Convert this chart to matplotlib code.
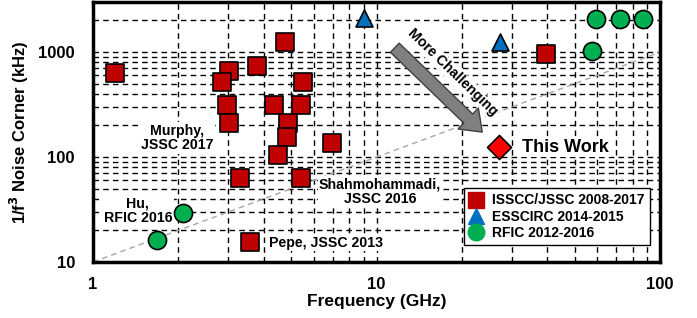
import numpy as np
import matplotlib.pyplot as plt
from matplotlib.lines import Line2D

plt.rcParams['font.family'] = ['Liberation Sans', 'DejaVu Sans']
plt.rcParams['font.weight'] = 'bold'

# ISSCC/JSSC 2008-2017 (GHz, kHz)
isscc_f = [1.2, 4.74, 3.01, 2.85, 3.78, 5.49, 2.96, 4.34, 5.4, 3.01, 4.86, 4.82, 6.95, 4.48, 3.29, 5.4, 3.57, 39.7]
isscc_c = [630, 1245, 660, 518, 736, 518, 313, 313, 313, 211, 211, 155, 136, 104, 63, 63, 15.5, 955]

# ESSCIRC 2014-2015
esscirc_f = [9.07, 27.3]
esscirc_c = [2090, 1260]

# RFIC 2012-2016
rfic_f = [59.5, 72.3, 87.2, 57.6, 2.07, 1.68]
rfic_c = [2060, 2060, 2060, 1030, 29.3, 16.2]

# This work
this_f = [27.1]
this_c = [124]

fig = plt.figure(figsize=(6.97, 3.18), dpi=100)
ax = fig.add_axes([0.1334, 0.176, 0.8136, 0.8177])
ax.set_xscale('log')
ax.set_yscale('log')
ax.set_xlim(1, 100)
ax.set_ylim(10, 3000)

ax.grid(True, which='both', color='black', linestyle=(0, (4, 3)), linewidth=1.0)
ax.set_axisbelow(True)

# reference slope line
ax.plot([1, 100], [10, 1000], color='#a6a6a6', linestyle=(0, (4, 3)), linewidth=1, zorder=2)

ax.scatter(isscc_f, isscc_c, marker='s', s=150, c='#c00000', edgecolors='black', linewidths=1.2, zorder=5)
ax.scatter(esscirc_f, esscirc_c, marker='^', s=150, c='#0070c0', edgecolors='black', linewidths=1.2, zorder=5)
ax.scatter(rfic_f, rfic_c, marker='o', s=170, c='#00b050', edgecolors='black', linewidths=1.2, zorder=5)
ax.scatter(this_f, this_c, marker='D', s=150, c='#ff0000', edgecolors='black', linewidths=1.2, zorder=6)

wb = dict(fc='white', ec='none', pad=1)
fs = 10.2
ax.text(1.98, 152, 'Murphy,\nJSSC 2017', ha='center', va='center', fontsize=fs, fontweight='bold', bbox=wb, zorder=4, linespacing=1.05)
ax.text(10.3, 46.4, 'Shahmohammadi,\nJSSC 2016', ha='center', va='center', fontsize=fs, fontweight='bold', bbox=wb, zorder=4, linespacing=1.05)
ax.text(4.17, 15.3, 'Pepe, JSSC 2013', ha='left', va='center', fontsize=fs, fontweight='bold', bbox=wb, zorder=4)
ax.text(1.44, 30.6, 'Hu,\nRFIC 2016', ha='center', va='center', fontsize=fs, fontweight='bold', bbox=wb, zorder=4, linespacing=1.05)
ax.text(32.7, 124, 'This Work', ha='left', va='center', fontsize=13, fontweight='bold', bbox=wb, zorder=4)
ax.text(18.5, 640, 'More Challenging', ha='center', va='center', fontsize=fs, fontweight='bold', rotation=-44,
        bbox=wb, zorder=4)

ax.annotate('', xy=(23.6, 173), xytext=(11.6, 1100),
            arrowprops=dict(arrowstyle='simple,head_length=1.0,head_width=1.5,tail_width=0.65',
                            fc='#808080', ec='#404040', lw=1, shrinkA=0, shrinkB=0, mutation_scale=14),
            zorder=5)

for s in ax.spines.values():
    s.set_linewidth(2.5)
ax.tick_params(which='both', length=0)
ax.tick_params(axis='x', pad=11, labelsize=12)
ax.tick_params(axis='y', pad=13, labelsize=12)
ax.set_xticks([1, 10, 100])
ax.set_xticklabels(['1', '10', '100'])
ax.set_yticks([10, 100, 1000])
ax.set_yticklabels(['10', '100', '1000'])
ax.set_xlabel('Frequency (GHz)', fontsize=12.5, fontweight='bold', labelpad=1)
ax.set_ylabel('1/f$^\\mathbf{3}$ Noise Corner (kHz)', fontsize=12, fontweight='bold', labelpad=5)

handles = [
    Line2D([], [], marker='s', color='#c00000', linestyle='none', markersize=11),
    Line2D([], [], marker='^', color='#0070c0', linestyle='none', markersize=12),
    Line2D([], [], marker='o', color='#00b050', linestyle='none', markersize=12),
]
leg = ax.legend(handles, ['ISSCC/JSSC 2008-2017', 'ESSCIRC 2014-2015', 'RFIC 2012-2016'],
                loc='lower left', bbox_to_anchor=(0.642, 0.038), fancybox=False, framealpha=1,
                edgecolor='black', prop={'weight': 'bold', 'size': 10}, handlelength=1.0,
                handletextpad=0.6, labelspacing=0.15, borderpad=0.4)
leg.get_frame().set_linewidth(1)
leg.set_zorder(7)

fig.savefig('out.png', dpi=100)
